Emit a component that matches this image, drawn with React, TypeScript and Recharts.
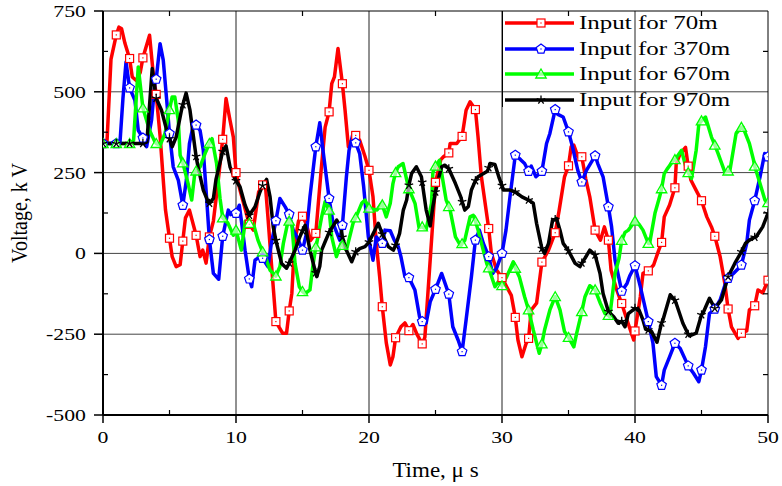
import React from 'react';
import { LineChart, Line, XAxis, YAxis, ReferenceLine } from 'recharts';

type P = [number, number];

// Time (μs) and voltage (kV), per series
const red70: P[] = [
  [0, 340], [0.3, 345], [0.6, 600], [1, 676], [1.2, 700], [1.4, 695], [1.65, 650], [2, 603], [2.2, 546], [2.5, 535],
  [2.8, 560], [3, 605], [3.5, 675], [3.8, 546], [4, 492], [4.3, 360], [4.55, 217], [4.7, 134], [5, 47], [5.2, -10],
  [5.5, -41], [5.8, -35], [6, 38], [6.2, 110], [6.5, 134], [7, 56], [7.3, -10], [7.5, 10], [7.75, -30], [8, 51],
  [8.3, 100], [8.65, 220], [9, 353], [9.25, 479], [9.55, 412], [9.8, 360], [10, 250], [10.3, 196], [10.6, 150], [11, 90],
  [11.3, 72], [11.7, 190], [12, 212], [12.2, 217], [12.4, 113], [12.66, -30], [13, -211], [13.5, -247], [13.8, -247], [14, -178],
  [14.2, -123], [14.4, 31], [14.7, 100], [15, 115], [15.3, 90], [15.6, 40], [16, 62], [16.4, 257], [16.7, 390], [17, 438],
  [17.2, 525], [17.4, 546], [17.67, 634], [18, 525], [18.2, 443], [18.45, 330], [18.7, 350], [19, 365], [19.3, 350], [19.7, 300],
  [20, 257], [20.3, 175], [20.55, 31], [20.8, -72], [21, -165], [21.3, -277], [21.6, -345], [21.8, -320], [22, -261], [22.4, -227],
  [22.7, -215], [23, -239], [23.3, -220], [23.6, -250], [24, -280], [24.2, -260], [24.6, -21], [25, 220], [25.4, 290], [25.6, 299],
  [26, 311], [26.1, 340], [26.6, 340], [27, 362], [27.3, 443], [27.6, 469], [28, 445], [28.2, 360], [28.45, 237], [29, 77],
  [29.2, 0], [29.6, -52], [30, -75], [30.35, -103], [30.7, -130], [31, -198], [31.2, -268], [31.5, -320], [31.8, -280], [32, -263],
  [32.2, -175], [32.6, -154], [33, -27], [33.5, 10], [34, 64], [34.3, 134], [34.7, 237], [35, 271], [35.2, 330], [35.4, 335],
  [35.7, 300], [36, 299], [36.3, 230], [36.6, 175], [37, 72], [37.4, 41], [37.7, 82], [38, 41], [38.2, -52], [38.6, -110],
  [39, -155], [39.4, -206], [39.9, -268], [40, -240], [40.4, -134], [40.6, -62], [41, -54], [41.4, -36], [41.7, 0], [42, 34],
  [42.2, 113], [42.6, 150], [43, 203], [43.1, 278], [43.4, 309], [43.8, 328], [44, 270], [44.2, 227], [44.6, 195], [45, 163],
  [45.4, 113], [45.75, 82], [46, 53], [46.4, -10], [46.75, -92], [47, -172], [47.25, -227], [47.75, -263], [48, -247], [48.4, -240],
  [48.6, -175], [49, -162], [49.25, -113], [49.6, -122], [50, -83],
];

const blue370: P[] = [
  [0, 340], [1, 340], [1.28, 345], [1.5, 480], [1.73, 592], [2, 512], [2.4, 474], [2.65, 381], [3, 357], [3.28, 330],
  [3.65, 412], [3.9, 525], [4, 539], [4.29, 649], [4.53, 598], [4.79, 474], [5, 371], [5.28, 268], [5.66, 227], [6, 149],
  [6.27, 227], [6.5, 340], [6.8, 400], [7, 397], [7.3, 380], [7.54, 319], [7.8, 165], [8, 43], [8.3, -62], [8.7, -80],
  [9, 53], [9.42, 134], [9.6, 120], [10, 124], [10.25, 149], [10.43, 93], [10.68, 10], [11, -79], [11.18, -103], [11.43, -21],
  [11.8, -10], [12, -15], [12.4, -41], [12.66, 31], [13, 101], [13.3, 170], [13.7, 144], [14, 121], [14.3, 72], [14.6, 50],
  [15, 10], [15.3, 62], [15.56, 175], [16, 330], [16.3, 404], [16.54, 319], [17, 170], [17.3, 93], [17.8, 41], [18, 87],
  [18.3, 237], [18.5, 319], [18.8, 371], [19, 342], [19.3, 309], [19.6, 206], [19.95, 51], [20.3, -21], [20.55, 51], [21, 31],
  [21.2, 72], [21.6, 70], [21.9, 41], [22.2, 21], [22.4, -10], [22.7, -72], [23, -75], [23.45, -113], [23.8, -196], [24, -211],
  [24.3, -215], [24.6, -150], [25, -111], [25.46, -62], [26, -126], [26.3, -227], [26.7, -268], [27, -304], [27.3, -206], [27.7, -72],
  [28, 41], [28.3, 72], [28.6, 31], [29, -10], [29.3, -62], [29.6, -45], [30, 0], [30.3, 72], [30.6, 175], [31, 304],
  [31.4, 290], [31.7, 278], [32, 254], [32.2, 270], [32.55, 237], [33, 254], [33.35, 340], [33.6, 371], [34, 445], [34.2, 430],
  [34.6, 422], [35, 376], [35.3, 330], [35.7, 257], [36, 221], [36.35, 257], [37, 302], [37.2, 278], [37.6, 237], [38, 144],
  [38.24, 82], [38.5, -21], [39, -117], [39.4, -93], [39.6, -70], [40, -38], [40.4, -103], [40.8, -175], [41, -211], [41.35, -278],
  [41.6, -381], [42, -408], [42.2, -361], [42.6, -320], [43, -278], [43.4, -294], [44, -348], [44.4, -371], [44.8, -397], [45, -361],
  [45.3, -289], [45.6, -186], [46, -172], [46.4, -144], [46.8, -93], [47, -77], [47.4, -62], [47.9, -41], [48, -36], [48.4, 31],
  [48.6, 103], [49, 163], [49.4, 237], [49.75, 309], [50, 299],
];

const green670: P[] = [
  [0, 340], [1, 340], [2, 340], [2.3, 350], [2.65, 577], [3, 450], [3.5, 381], [3.9, 345], [4, 340], [4.3, 335],
  [4.66, 371], [4.9, 422], [5, 445], [5.2, 484], [5.4, 484], [5.66, 412], [5.8, 304], [6, 280], [6.4, 216], [6.67, 165],
  [6.9, 247], [7, 255], [7.3, 268], [7.67, 309], [8, 340], [8.2, 355], [8.54, 278], [8.8, 170], [9, 110], [9.4, 93],
  [9.8, 56], [10, 72], [10.4, 10], [10.7, 100], [11, 93], [11.3, 93], [11.65, 41], [12, 5], [12.2, -10], [12.56, -52],
  [13, -70], [13.3, -41], [13.56, 31], [13.93, 103], [14, 100], [14.2, 90], [14.44, -31], [14.76, -103], [15, -118], [15.2, -124],
  [15.56, -113], [15.77, -41], [16, 20], [16.07, 31], [16.44, 113], [16.7, 160], [17, 134], [17.2, 51], [17.55, -10], [17.9, 31],
  [18, 25], [18.3, 10], [18.8, 93], [19, 110], [19.45, 155], [19.7, 165], [20, 140], [20.6, 134], [20.95, 155], [21, 150],
  [21.3, 113], [21.6, 155], [21.8, 216], [22, 250], [22.2, 268], [22.56, 278], [22.9, 216], [23, 200], [23.46, 155], [23.76, 80],
  [24, 82], [24.3, 75], [24.7, 155], [24.8, 249], [25, 270], [25.3, 288], [25.8, 165], [26, 145], [26.1, 134], [26.5, 51],
  [26.9, 23], [27, 30], [27.2, 40], [27.6, 113], [27.84, 118], [28, 100], [28.2, 72], [28.85, -31], [29, -45], [29.47, -103],
  [29.72, -88], [30, -100], [30.35, -72], [30.85, -26], [31, -46], [31.3, -72], [31.7, -134], [32, -175], [32.35, -237], [32.8, -309],
  [33, -280], [33.2, -237], [33.6, -175], [34, -134], [34.36, -175], [34.7, -242], [35, -260], [35.4, -289], [35.6, -250], [36, -180],
  [36.24, -134], [36.6, -100], [37, -113], [37.4, -155], [37.74, -186], [38, -192], [38.1, -196], [38.5, -62], [38.8, -15], [39, 40],
  [39.25, 65], [39.5, 72], [40, 100], [40.3, 90], [40.6, 72], [41, 31], [41.1, 31], [41.5, 124], [41.85, 175], [42, 200],
  [42.2, 247], [42.4, 260], [42.9, 288], [43, 290], [43.5, 319], [43.8, 271], [44, 250], [44.25, 232], [44.6, 319], [44.8, 400],
  [45, 410], [45.3, 422], [45.75, 360], [46, 335], [46.25, 309], [46.75, 252], [47, 255], [47.14, 257], [47.6, 371], [48, 390],
  [48.1, 392], [48.6, 340], [48.9, 291], [49, 270], [49.4, 216], [49.77, 165], [50, 157],
];

const black970: P[] = [
  [0, 340], [1, 340], [2, 340], [3, 340], [3.3, 345], [3.7, 572], [4, 480], [4.4, 443], [4.79, 381], [5, 355],
  [5.2, 330], [5.5, 360], [5.9, 443], [6, 460], [6.25, 496], [6.54, 443], [6.9, 330], [7, 300], [7.17, 262], [7.54, 196],
  [7.9, 160], [8, 155], [8.3, 170], [8.5, 230], [8.9, 299], [9, 315], [9.25, 333], [9.55, 268], [9.9, 232], [10, 225],
  [10.3, 206], [10.68, 150], [11, 118], [11.43, 144], [11.8, 190], [12, 210], [12.3, 229], [12.56, 175], [12.8, 82], [13, 40],
  [13.43, -31], [13.8, -46], [14, -30], [14.44, 10], [14.8, 51], [15, 70], [15.2, 87], [15.56, 10], [15.94, -52], [16, -60],
  [16.07, -72], [16.3, -40], [16.44, 10], [16.7, 36], [17, 65], [17.57, 103], [17.9, 80], [18, 50], [18.3, 10], [18.7, -26],
  [19, 5], [19.3, 15], [19.7, 21], [20, 35], [20.7, 93], [21, 60], [21.45, 21], [21.83, 10], [22, 25], [22.3, 62],
  [22.58, 134], [22.83, 165], [23, 211], [23.2, 247], [23.56, 268], [23.94, 237], [24, 220], [24.3, 134], [24.6, 85], [24.8, 144],
  [25, 190], [25.2, 227], [25.46, 268], [25.7, 273], [26, 262], [26.5, 216], [26.9, 175], [27, 160], [27.2, 134], [27.47, 145],
  [27.7, 196], [28, 225], [28.2, 237], [28.9, 254], [29, 265], [29.1, 278], [29.47, 275], [29.8, 232], [30, 210], [30.1, 196],
  [30.6, 196], [31, 190], [31.5, 175], [32, 165], [32.35, 155], [32.6, 93], [33, 15], [33.2, 0], [33.5, 31], [33.8, 103],
  [34, 105], [34.1, 108], [34.36, 72], [34.6, 31], [35, 8], [35.5, -31], [35.86, -41], [36, -30], [36.24, -15], [36.6, 10],
  [37, -5], [37.37, -62], [37.6, -124], [38, -180], [38.4, -196], [38.74, -216], [39, -210], [39.25, -227], [39.5, -186], [40, -170],
  [40.3, -175], [40.6, -206], [40.8, -235], [41, -237], [41.25, -242], [41.65, -275], [42, -215], [42.1, -206], [42.65, -128], [43, -145],
  [43.1, -155], [43.6, -216], [44, -250], [44.1, -255], [44.6, -247], [45, -190], [45.1, -186], [45.6, -139], [46, -170], [46.5, -144],
  [47, -72], [47.5, -31], [48, 5], [48.3, 31], [48.6, 41], [49, 50], [49.1, 51], [49.6, 82], [50, 124],
];

const seriesNames = ['Input for 70m', 'Input for 370m', 'Input for 670m', 'Input for 970m'];
const seriesColors = ['#ff0000', '#0000ff', '#00ff00', '#000000'];
const seriesShapes = ['square', 'pentagon', 'triangle', 'star'];
const seriesData = [red70, blue370, green670, black970];

const xTicks = [0, 5, 10, 15, 20, 25, 30, 35, 40, 45, 50];
const yTicks = [-500, -375, -250, -125, 0, 125, 250, 375, 500, 625, 750];
const xGrid = [10, 20, 30, 40];
const yGrid = [-250, 0, 250, 500];
const xMajor = [0, 10, 20, 30, 40, 50];
const yMajor = [-500, -250, 0, 250, 500, 750];

const FONT = "'Liberation Serif', 'Times New Roman', serif";
const TICK_FS = 17;
const TICK_SX = 1.28;

function Marker({ shape, color, cx, cy }: { shape: string; color: string; cx: number; cy: number }) {
  if (shape === 'square') {
    return (
      <g>
        <rect x={cx - 4} y={cy - 4} width={8} height={8} fill="#fff" stroke={color} strokeWidth={1.2} />
        <rect x={cx - 0.6} y={cy - 0.6} width={1.2} height={1.2} fill={color} />
      </g>
    );
  }
  if (shape === 'pentagon') {
    const r = 5;
    const pts = Array.from({ length: 5 }, (_, i) => {
      const a = -Math.PI / 2 + (i * 2 * Math.PI) / 5;
      return `${cx + r * Math.cos(a)},${cy + r * Math.sin(a)}`;
    }).join(' ');
    return (
      <g>
        <polygon points={pts} fill="#fff" stroke={color} strokeWidth={1.2} />
        <rect x={cx - 0.6} y={cy - 0.6} width={1.2} height={1.2} fill={color} />
      </g>
    );
  }
  if (shape === 'triangle') {
    const r = 6;
    const pts = [0, 1, 2]
      .map((i) => {
        const a = -Math.PI / 2 + (i * 2 * Math.PI) / 3;
        return `${cx + r * Math.cos(a)},${cy + 1 + r * Math.sin(a)}`;
      })
      .join(' ');
    return <polygon points={pts} fill="#fff" fillOpacity={0.6} stroke={color} strokeWidth={1.3} />;
  }
  const r = 4.5;
  return (
    <g stroke={color} strokeWidth={1.3}>
      {[0, 1, 2, 3, 4].map((i) => {
        const a = -Math.PI / 2 + (i * 2 * Math.PI) / 5;
        return <line key={i} x1={cx} y1={cy} x2={cx + r * Math.cos(a)} y2={cy + r * Math.sin(a)} />;
      })}
    </g>
  );
}

const makeDot = (shape: string, color: string) => (props: any) => {
  const { cx, cy, payload, index } = props;
  if (cx == null || cy == null || !Number.isInteger(payload.t)) return <g key={`d${index}`} />;
  return (
    <g key={`d${index}`}>
      <Marker shape={shape} color={color} cx={cx} cy={cy} />
    </g>
  );
};

const BottomTick = (props: any) => {
  const { x, y, payload } = props;
  const v = payload.value;
  const major = xMajor.includes(v);
  return (
    <g>
      {major ? (
        <line x1={x} x2={x} y1={y} y2={y + 8} stroke="#000" strokeWidth={1.5} />
      ) : (
        <line x1={x} x2={x} y1={y} y2={y - 5} stroke="#000" strokeWidth={1.2} />
      )}
      {major && (
        <text
          transform={`translate(${x},${y + 28}) scale(${TICK_SX},1)`}
          textAnchor="middle"
          fontFamily={FONT}
          fontSize={TICK_FS}
          fill="#000"
        >
          {v}
        </text>
      )}
    </g>
  );
};

const LeftTick = (props: any) => {
  const { x, y, payload } = props;
  const v = payload.value;
  const major = yMajor.includes(v);
  return (
    <g>
      {major ? (
        <line x1={x - 9} x2={x} y1={y} y2={y} stroke="#000" strokeWidth={1.5} />
      ) : (
        <line x1={x} x2={x + 5} y1={y} y2={y} stroke="#000" strokeWidth={1.2} />
      )}
      {major && (
        <text
          transform={`translate(${x - 17},${y + 6}) scale(${TICK_SX},1)`}
          textAnchor="end"
          fontFamily={FONT}
          fontSize={TICK_FS}
          fill="#000"
        >
          {v}
        </text>
      )}
    </g>
  );
};

const TopTick = (props: any) => {
  const { x, y, payload } = props;
  if (xMajor.includes(payload.value)) return <g />;
  return <line x1={x} x2={x} y1={y} y2={y + 5} stroke="#000" strokeWidth={1.2} />;
};

const RightTick = (props: any) => {
  const { x, y, payload } = props;
  if (yMajor.includes(payload.value)) return <g />;
  return <line x1={x - 5} x2={x} y1={y} y2={y} stroke="#000" strokeWidth={1.2} />;
};

const XTitle = (props: any) => {
  const vb = props.viewBox || {};
  const cx = vb.x + vb.width / 2;
  return (
    <text
      transform={`translate(${cx},${vb.y + 62}) scale(1.15,1)`}
      textAnchor="middle"
      fontFamily={FONT}
      fontSize={20}
      fill="#000"
    >
      Time, μ s
    </text>
  );
};

const YTitle = (props: any) => {
  const vb = props.viewBox || {};
  const cy = vb.y + vb.height / 2;
  return (
    <text
      transform={`translate(27,${cy}) rotate(-90) scale(1,1.2)`}
      textAnchor="middle"
      fontFamily={FONT}
      fontSize={20}
      fill="#000"
    >
      Voltage, k V
    </text>
  );
};

function LegendBox() {
  return (
    <div
      style={{
        position: 'absolute',
        left: 502,
        top: 11,
        width: 266,
        height: 96,
        borderLeft: '1px solid #000',
        boxSizing: 'border-box',
        pointerEvents: 'none',
      }}
    >
      {seriesNames.map((name, i) => (
        <div key={name} style={{ position: 'absolute', left: 0, top: 1 + i * 25.6, height: 24, width: 266 }}>
          <svg width={72} height={24} style={{ position: 'absolute', left: 1, top: 0 }}>
            <line x1={1} x2={70} y1={11} y2={11} stroke={seriesColors[i]} strokeWidth={3.5} />
            <Marker shape={seriesShapes[i]} color={seriesColors[i]} cx={37} cy={11} />
          </svg>
          <span
            style={{
              position: 'absolute',
              left: 76,
              top: -1,
              fontFamily: FONT,
              fontSize: 19.5,
              lineHeight: '24px',
              whiteSpace: 'nowrap',
              transform: 'scaleX(1.28)',
              transformOrigin: 'left center',
              color: '#000',
            }}
          >
            {name}
          </span>
        </div>
      ))}
    </div>
  );
}

export default function App() {
  return (
    <div style={{ position: 'absolute', left: 0, top: 0, width: 782, height: 486, background: '#fff' }}>
      <LineChart width={782} height={486} margin={{ top: 10, right: 13, bottom: 0, left: 0 }}>
        <XAxis
          xAxisId="bottom"
          type="number"
          dataKey="t"
          domain={[0, 50]}
          ticks={xTicks}
          interval={0}
          allowDataOverflow
          height={71}
          tickSize={0}
          tickMargin={0}
          tickLine={false}
          axisLine={{ stroke: '#000', strokeWidth: 2 }}
          tick={<BottomTick />}
          label={{ content: <XTitle /> }}
        />
        <XAxis
          xAxisId="top"
          orientation="top"
          type="number"
          dataKey="t"
          domain={[0, 50]}
          ticks={xTicks}
          interval={0}
          allowDataOverflow
          height={1}
          tickSize={0}
          tickMargin={0}
          tickLine={false}
          axisLine={{ stroke: '#000', strokeWidth: 1 }}
          tick={<TopTick />}
        />
        <YAxis
          yAxisId="left"
          type="number"
          domain={[-500, 750]}
          ticks={yTicks}
          interval={0}
          allowDataOverflow
          width={103}
          tickSize={0}
          tickMargin={0}
          tickLine={false}
          axisLine={{ stroke: '#000', strokeWidth: 2 }}
          tick={<LeftTick />}
          label={{ content: <YTitle /> }}
        />
        <YAxis
          yAxisId="right"
          orientation="right"
          type="number"
          domain={[-500, 750]}
          ticks={yTicks}
          interval={0}
          allowDataOverflow
          width={1}
          tickSize={0}
          tickMargin={0}
          tickLine={false}
          axisLine={{ stroke: '#000', strokeWidth: 1 }}
          tick={<RightTick />}
        />
        {xGrid.map((g) => (
          <ReferenceLine key={`gx${g}`} x={g} xAxisId="bottom" yAxisId="left" stroke="#222" strokeWidth={1} />
        ))}
        {yGrid.map((g) => (
          <ReferenceLine key={`gy${g}`} y={g} xAxisId="bottom" yAxisId="left" stroke="#444" strokeWidth={1} />
        ))}
        {seriesData.map((d, i) => (
          <Line
            key={seriesNames[i]}
            xAxisId="bottom"
            yAxisId="left"
            name={seriesNames[i]}
            data={d.map(([t, v]) => ({ t, v }))}
            dataKey="v"
            type="linear"
            stroke={seriesColors[i]}
            strokeWidth={3.5}
            strokeLinejoin="round"
            dot={makeDot(seriesShapes[i], seriesColors[i])}
            activeDot={false}
            isAnimationActive={false}
          />
        ))}
      </LineChart>
      <LegendBox />
    </div>
  );
}
